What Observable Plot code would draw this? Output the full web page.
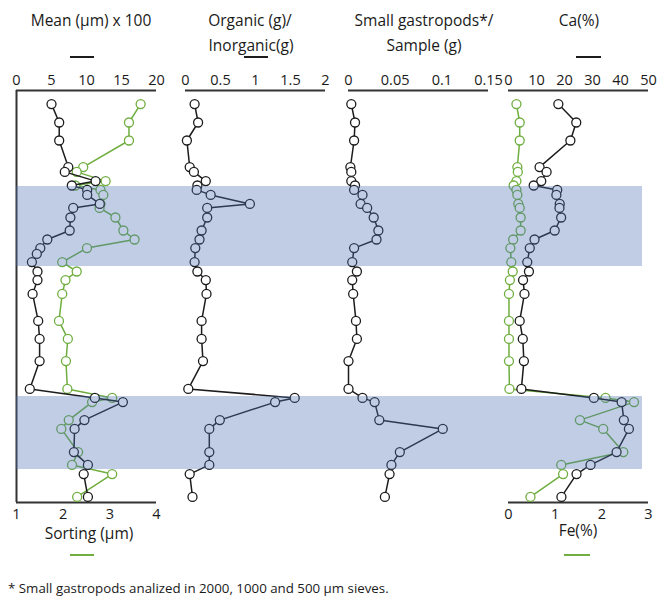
<!DOCTYPE html>
<html><head><meta charset="utf-8">
<script src="https://cdn.jsdelivr.net/npm/d3@7"></script>
<script src="https://cdn.jsdelivr.net/npm/@observablehq/plot@0.6"></script>
<style>
body{margin:0;background:#fff;font-family:"Open Sans",sans-serif;color:#1a1a1a}
#wrap{position:relative;width:672px;height:600px;overflow:hidden}
.layer{position:absolute;top:0}
.t{position:absolute;font-size:15.5px;line-height:24px;white-space:nowrap;transform:translate(-50%,-50%)}
.key{position:absolute;height:0;border-top:2px solid}
.note{position:absolute;left:8px;top:579px;font-size:13.3px;white-space:nowrap}
</style></head><body><div id="wrap"></div>
<script>
// depth (arbitrary units, top of core = 0)
const depth = [6.8,16,25,38.3,40.7,45.3,47.5,49.7,52.2,56.7,58.7,63.5,70,74.5,78.8,81.7,85.8,90.5,94.8,101.7,115.2,124.2,135.3,149.2,153.7,155.8,164.8,169.2,180.8,187.2,191.8,203.2];
const meanGrain = [5.0,6.1,6.1,7.4,6.9,11.3,7.9,10.1,10.1,11.9,8.1,7.7,7.6,4.4,3.4,2.9,2.2,3.0,3.0,2.3,3.1,3.3,3.3,1.9,11.2,15.2,9.7,8.3,8.2,10.2,9.6,10.2];
const sorting = [3.66,3.41,3.41,2.43,2.29,2.91,2.26,2.80,2.86,2.80,2.78,3.12,3.29,3.53,2.51,null,1.98,2.29,2.05,1.98,1.91,2.10,2.06,2.09,3.05,2.62,2.12,1.96,2.32,2.19,3.05,2.30];
const organic = [0.13,0.18,0.02,0.06,0.12,0.29,0.17,0.16,0.36,0.92,0.31,0.31,0.23,0.20,0.14,null,0.13,0.17,0.29,0.30,0.23,0.23,0.25,0.04,1.56,1.28,0.49,0.34,0.34,0.34,0.06,0.10];
const gastro = [0.003,0.007,0.006,0.002,0.003,0.003,0.007,0.006,0.015,0.013,0.020,0.027,0.032,0.030,0.006,null,0.004,0.009,0.004,0.005,0.008,0.009,0.0,0.0,0.015,0.028,0.033,0.101,0.055,0.046,0.044,0.039];
const ca = [17.8,24.2,22.1,11.1,13.6,11.7,9.0,17.4,17.1,18.3,18.2,18.8,16.5,9.3,7.6,null,6.7,7.3,5.2,5.7,4.0,5.1,5.5,4.6,30.5,40.4,41.2,43.0,38.6,29.3,24.3,18.9];
const fe = [0.17,0.24,0.24,0.19,0.20,0.17,0.11,0.17,0.19,0.21,0.24,0.26,0.26,0.10,0.04,null,0.06,0.09,0.03,0.01,0.01,0.01,0.01,0.02,2.08,2.69,1.53,2.03,2.46,1.13,1.17,0.47];
// shaded intervals
const bandStart = [48, 153];
const bandEnd = [88, 189.5];
// tick labels
const meanTicks = [0,5,10,15,20];
const sortingTicks = [1,2,3,4];
const organicTicks = [0,0.5,1,1.5,2];
const gastroTicks = [0,0.05,0.1,0.15];
const caTicks = [0,10,20,30,40,50];
const feTicks = [0,1,2,3];

const Y_DOMAIN = [0, 206];
const H = 530, TOP = 90, BOTTOM = 502;
const BLACK = "#1c1c1c", GREEN = "#6fae3f", AXIS = "#333";
const rows = depth.map((d,i)=>({depth:d, mean:meanGrain[i], sorting:sorting[i], organic:organic[i], gastro:gastro[i], ca:ca[i], fe:fe[i]}));
const bands = bandStart.map((s,i)=>({s, e:bandEnd[i]}));
const wrap = document.getElementById("wrap");
const baseStyle = {background:"none", fontFamily:"'Open Sans', sans-serif", fontSize:"14px", color:"#1a1a1a", overflow:"visible"};

function panel({key, color, domain, ticks, anchor, left, width, mL, mR, extra=[]}) {
  const p = Plot.plot({
    width, height: H, marginTop: TOP, marginBottom: H-BOTTOM, marginLeft: mL, marginRight: mR,
    style: baseStyle,
    x: {domain},
    y: {domain: Y_DOMAIN, reverse: true, axis: null},
    marks: [
      Plot.axisX({anchor, ticks, tickSize:0, tickPadding:6, tickFormat: d=>String(d), label:null, fontSize:14.5}),
      Plot.ruleY([anchor==="top"?Y_DOMAIN[0]:Y_DOMAIN[1]], {stroke:AXIS, strokeWidth:2}),
      ...extra,
      Plot.line(rows, {filter: d=>d[key]!=null, x:key, y:"depth", stroke:color, strokeWidth:1.5}),
      Plot.dot(rows, {filter: d=>d[key]!=null, x:key, y:"depth", r:4.5, fill:"white", stroke:color, strokeWidth:1.3})
    ]
  });
  p.classList.add("layer");
  p.style.left = left + "px";
  wrap.appendChild(p);
}

panel({key:"sorting", color:GREEN, domain:[1,4], ticks:sortingTicks, anchor:"bottom", left:0, width:176, mL:16, mR:20});
panel({key:"mean", color:BLACK, domain:[0,20], ticks:meanTicks, anchor:"top", left:0, width:176, mL:16, mR:20,
  extra:[Plot.ruleX([0], {stroke:AXIS, strokeWidth:2})]});
panel({key:"organic", color:BLACK, domain:[0,2], ticks:organicTicks, anchor:"top", left:165, width:180, mL:20, mR:20});
panel({key:"gastro", color:BLACK, domain:[0,0.15], ticks:gastroTicks, anchor:"top", left:328, width:180, mL:20, mR:20});
panel({key:"fe", color:GREEN, domain:[0,3], ticks:feTicks, anchor:"bottom", left:488, width:180, mL:20, mR:20});
panel({key:"ca", color:BLACK, domain:[0,50], ticks:caTicks, anchor:"top", left:488, width:180, mL:20, mR:20});

// shaded bands overlay across all panels
const ov = Plot.plot({
  width: 672, height: H, marginTop: TOP, marginBottom: H-BOTTOM, marginLeft: 16, marginRight: 30,
  style: baseStyle,
  y: {domain: Y_DOMAIN, reverse: true, axis: null},
  marks: [Plot.rect(bands, {y1:"s", y2:"e", fill:"#4a6fb5", fillOpacity:0.35})]
});
ov.classList.add("layer");
ov.style.left = "0px";
ov.style.pointerEvents = "none";
wrap.appendChild(ov);

// titles & keys
function txt(s, x, y){ const d=document.createElement("div"); d.className="t"; d.textContent=s; d.style.left=x+"px"; d.style.top=y+"px"; wrap.appendChild(d); }
function key(x1, x2, y, c){ const d=document.createElement("div"); d.className="key"; d.style.left=x1+"px"; d.style.width=(x2-x1)+"px"; d.style.top=(y-1)+"px"; d.style.borderColor=c; wrap.appendChild(d); }
txt("Mean (µm) x 100", 91, 20);
txt("Organic (g)/", 250, 20);
txt("Inorganic(g)", 251, 45);
txt("Small gastropods*/", 424, 20);
txt("Sample (g)", 424, 45);
txt("Ca(%)", 579, 20);
txt("Sorting (µm)", 89, 533);
txt("Fe(%)", 578, 530);
key(70, 94, 57, BLACK);
key(244, 268, 57, BLACK);
key(576, 601, 57, BLACK);
key(70, 94, 555, GREEN);
key(564, 590, 555, GREEN);
const n = document.createElement("div"); n.className="note"; n.textContent="* Small gastropods analized in 2000, 1000 and 500 µm sieves."; wrap.appendChild(n);
</script></body></html>
